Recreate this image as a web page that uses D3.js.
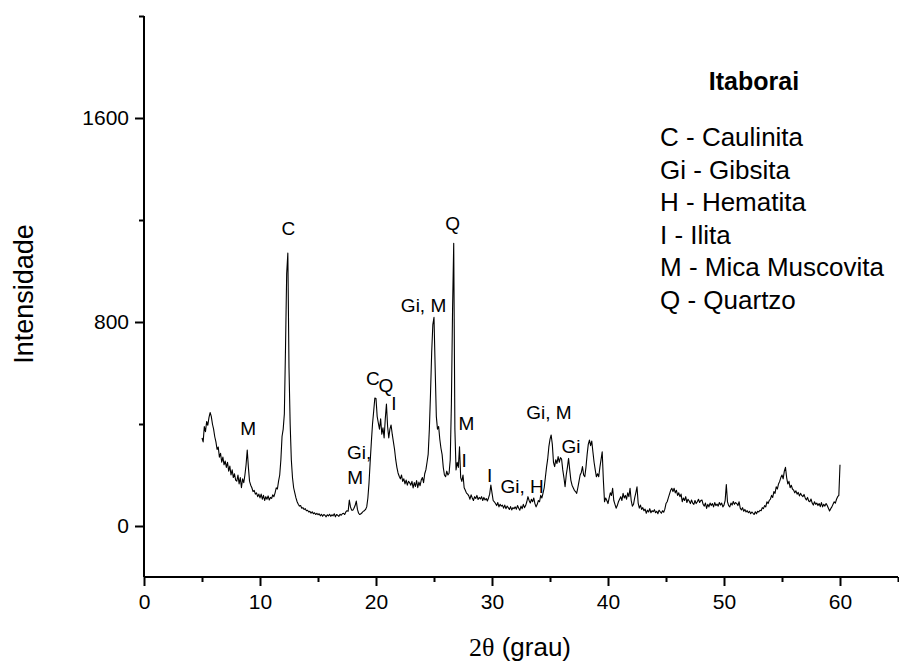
<!DOCTYPE html>
<html>
<head>
<meta charset="utf-8">
<script src="https://cdn.jsdelivr.net/npm/d3@7"></script>
<style>
  html, body { margin: 0; padding: 0; background: #fff; }
  svg { display: block; }
  text { font-family: "Liberation Sans", Arial, sans-serif; fill: #000; }
</style>
</head>
<body>
<div id="chart"></div>
<script>
// 2θ scan: start, step (degrees) — intensity values below, one row per degree
const scanStart = 5.0;
const scanStep = 0.1;

const intensity = [
  // 5.x
  345, 330, 390, 370, 410, 395, 425, 445, 430, 400,
  // 6.x
  380, 350, 330, 300, 310, 270, 285, 250, 270, 240,
  // 7.x
  255, 230, 250, 215, 235, 200, 220, 190, 205, 180,
  // 8.x
  176, 200, 165, 190, 150, 185, 170, 200, 240, 298,
  // 9.x
  230, 175, 160, 150, 135, 140, 125, 130, 115, 125,
  // 10.x
  110, 125, 105, 120, 100, 115, 105, 118, 102, 112,
  // 11.x
  108, 122, 115, 130, 150, 145, 176, 200, 260, 351,
  // 12.x
  380, 440, 700, 990, 1070, 620, 400, 260, 190, 150,
  // 13.x
  130, 110, 95, 85, 78, 80, 70, 72, 65, 68,
  // 14.x
  60, 62, 55, 58, 50, 56, 48, 52, 45, 50,
  // 15.x
  44, 48, 40, 46, 38, 45, 42, 36, 44, 40,
  // 16.x
  46, 38, 44, 40, 48, 36, 45, 42, 38, 46,
  // 17.x
  42, 48, 50, 45, 55, 60, 58, 102, 75, 62,
  // 18.x
  62, 70, 80, 98, 65, 50, 45, 48, 52, 58,
  // 19.x
  60, 65, 75, 110, 170, 253, 330, 400, 450, 502,
  // 20.x
  500, 430, 404, 380, 420, 360, 385, 345, 420, 478,
  // 21.x
  390, 345, 380, 396, 360, 330, 300, 260, 230, 208,
  // 22.x
  195, 185, 200, 175, 185, 165, 180, 160, 175, 170,
  // 23.x
  160, 175, 149, 170, 155, 178, 150, 172, 158, 180,
  // 24.x
  190, 170, 205, 220, 250, 282, 380, 520, 680, 790,
  // 25.x
  818, 620, 430, 380, 390, 340, 305, 280, 230, 200,
  // 26.x
  193, 215, 200, 207, 260, 480, 850, 1109, 380, 220,
  // 27.x
  250, 230, 311, 190, 175, 200, 150, 140, 129, 125,
  // 28.x
  118, 105, 122, 110, 100, 115, 108, 120, 104, 112,
  // 29.x
  106, 115, 100, 112, 102, 108, 98, 110, 125, 161,
  // 30.x
  130, 100, 95, 88, 80, 92, 75, 85, 78, 82,
  // 31.x
  70, 82, 68, 78, 72, 65, 76, 63, 72, 68,
  // 32.x
  75, 66, 80, 70, 62, 78, 68, 85, 72, 80,
  // 33.x
  95, 115, 100, 90, 105, 95, 110, 88, 75, 85,
  // 34.x
  100, 95, 120, 110, 129, 150, 190, 230, 262, 310,
  // 35.x
  340, 357, 320, 250, 233, 260, 245, 272, 250, 268,
  // 36.x
  262, 220, 190, 154, 200, 230, 265, 220, 179, 160,
  // 37.x
  150, 140, 135, 128, 150, 175, 200, 210, 233, 200,
  // 38.x
  193, 230, 280, 320, 337, 315, 333, 290, 250, 220,
  // 39.x
  193, 205, 193, 230, 260, 291, 180, 95, 110, 100,
  // 40.x
  88, 110, 130, 120, 148, 100, 85, 70, 80, 95,
  // 41.x
  105, 115, 100, 128, 110, 120, 105, 130, 115, 148,
  // 42.x
  100, 78, 85, 110, 130, 154, 90, 70, 82, 65,
  // 43.x
  72, 60, 66, 50, 62, 55, 68, 52, 60, 56,
  // 44.x
  64, 52, 58, 48, 62, 56, 50, 60, 54, 66,
  // 45.x
  88, 95, 110, 125, 140, 148, 135, 148, 130, 140,
  // 46.x
  120, 130, 115, 125, 95, 110, 100, 115, 92, 105,
  // 47.x
  98, 88, 102, 90, 85, 100, 88, 95, 105, 92,
  // 48.x
  100, 102, 85, 78, 90, 69, 85, 75, 90, 80,
  // 49.x
  88, 75, 92, 80, 86, 78, 92, 82, 90, 75,
  // 50.x
  82, 100, 163, 95, 80, 75, 90, 82, 96, 85,
  // 51.x
  92, 88, 80, 95, 70, 63, 72, 58, 65, 55,
  // 52.x
  60, 52, 58, 48, 55, 50, 45, 56, 48, 58,
  // 53.x
  55, 62, 60, 72, 68, 80, 75, 95, 88, 100,
  // 54.x
  105, 120, 112, 135, 128, 154, 145, 165, 175, 190,
  // 55.x
  200, 185, 215, 230, 190, 165, 175, 150, 160, 145,
  // 56.x
  141, 130, 138, 125, 132, 118, 128, 120, 115, 124,
  // 57.x
  110, 102, 112, 98, 95, 106, 90, 82, 95, 85,
  // 58.x
  90, 80, 88, 76, 92, 75, 85, 78, 88, 80,
  // 59.x
  70, 59, 68, 75, 85, 95, 90, 105, 115, 120,
  // 60.0
  240
];

const xTicks = [0, 10, 20, 30, 40, 50, 60];
const xMinorTicks = [5, 15, 25, 35, 45, 55, 65];
const yTicks = [0, 800, 1600];
const yMinorTicks = [400, 1200, 2000];

// peak annotations: label, 2θ, intensity (text baseline)
const peakLabels = [
  ["M", 8.99, 358],
  ["C", 12.44, 1141],
  ["Gi,", 18.55, 263],
  ["M", 18.2, 165],
  ["C", 19.74, 554],
  ["Q", 20.86, 527],
  ["I", 21.55, 455],
  ["Gi, M", 24.1, 840],
  ["Q", 26.6, 1161],
  ["M", 27.8, 376],
  ["I", 27.6, 231],
  ["I", 29.8, 174],
  ["Gi, H", 32.6, 129],
  ["Gi, M", 34.9, 420],
  ["Gi", 36.8, 286]
];

const legendTitle = "Itaborai";
const legendItems = [
  "C - Caulinita",
  "Gi - Gibsita",
  "H - Hematita",
  "I - Ilita",
  "M - Mica Muscovita",
  "Q - Quartzo"
];

const W = 899, H = 663;
const svg = d3.select("#chart").append("svg").attr("width", W).attr("height", H);

const x = d3.scaleLinear().domain([0, 65]).range([144, 898]);
const y = d3.scaleLinear().domain([-200, 2000]).range([577, 16]);

const data = intensity.map((v, i) => [scanStart + i * scanStep, v]);

// trace
svg.append("path")
  .datum(data)
  .attr("fill", "none")
  .attr("stroke", "#000")
  .attr("stroke-width", 1.1)
  .attr("stroke-linejoin", "round")
  .attr("d", d3.line().x(d => x(d[0])).y(d => y(d[1])));

// axes
const xAxis = svg.append("g").attr("transform", `translate(0,${y(-200)})`)
  .call(d3.axisBottom(x).tickValues(xTicks).tickSize(9).tickPadding(8).tickFormat(d3.format("d")));
const xMinor = svg.append("g").attr("transform", `translate(0,${y(-200)})`)
  .call(d3.axisBottom(x).tickValues(xMinorTicks).tickSize(5).tickFormat(""));
const yAxis = svg.append("g").attr("transform", `translate(${x(0)},0)`)
  .call(d3.axisLeft(y).tickValues(yTicks).tickSize(9).tickPadding(6).tickFormat(d3.format("d")));
const yMinor = svg.append("g").attr("transform", `translate(${x(0)},0)`)
  .call(d3.axisLeft(y).tickValues(yMinorTicks).tickSize(5).tickFormat(""));

[xAxis, xMinor, yAxis, yMinor].forEach(g => {
  g.selectAll(".domain").attr("stroke", "#000").attr("stroke-width", 2);
  g.selectAll(".tick line").attr("stroke", "#000").attr("stroke-width", 2);
  g.selectAll(".tick text").attr("font-family", "Liberation Sans, Arial, sans-serif")
    .attr("font-size", 21).attr("fill", "#000");
});
xMinor.select(".domain").remove();
yMinor.select(".domain").remove();
xAxis.select(".domain").attr("d", `M${x(0)},0H${x(65)}`);
yAxis.select(".domain").attr("d", `M0,${y(-200)}V${y(2000)}`);

// axis titles
svg.append("text")
  .attr("transform", `translate(33,294) rotate(-90)`)
  .attr("text-anchor", "middle")
  .attr("font-size", 27)
  .text("Intensidade");

const xt = svg.append("text")
  .attr("x", 520)
  .attr("y", 656)
  .attr("text-anchor", "middle")
  .attr("font-size", 26);
xt.append("tspan").attr("font-family", "Liberation Serif, Times New Roman, serif").text("2θ");
xt.append("tspan").text(" (grau)");

// peak labels
svg.append("g").selectAll("text")
  .data(peakLabels)
  .join("text")
  .attr("x", d => x(d[1]))
  .attr("y", d => y(d[2]))
  .attr("text-anchor", "middle")
  .attr("font-size", 19)
  .text(d => d[0]);

// legend
svg.append("text")
  .attr("x", 754).attr("y", 90)
  .attr("text-anchor", "middle")
  .attr("font-size", 25)
  .attr("font-weight", "bold")
  .text(legendTitle);

svg.append("g").selectAll("text")
  .data(legendItems)
  .join("text")
  .attr("x", 660)
  .attr("y", (d, i) => 146 + i * 32.6)
  .attr("font-size", 26)
  .text(d => d);
</script>
</body>
</html>
